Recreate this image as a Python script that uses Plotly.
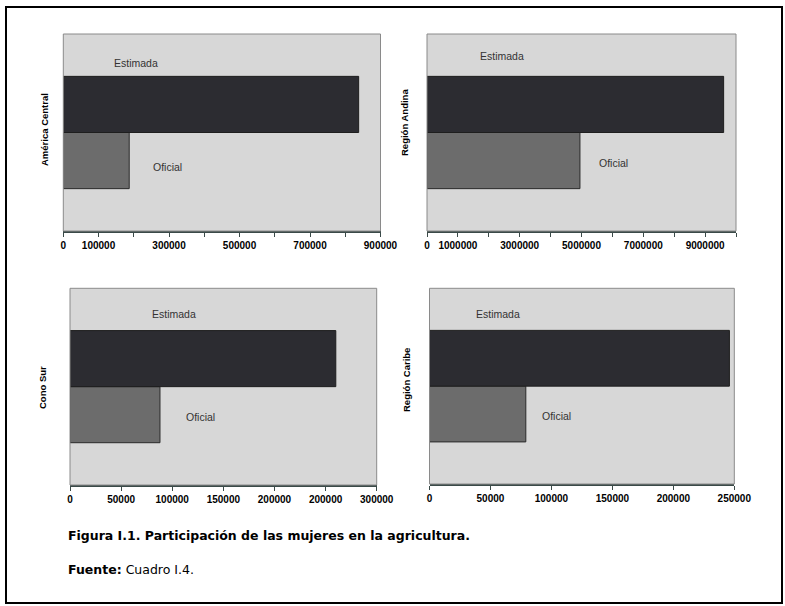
import plotly.graph_objects as go

# Mujeres en la agricultura: cifra oficial frente a cifra estimada, por región
regiones = ["América Central", "Región Andina", "Cono Sur", "Región Caribe"]
estimada = [838000, 9600000, 260000, 246000]
oficial = [187000, 4950000, 88000, 79000]

# Ejes horizontales de cada panel
ticks_ac = [0, 100000, 200000, 300000, 400000, 500000, 600000, 700000, 800000, 900000]
labels_ac = ["0", "100000", "", "300000", "", "500000", "", "700000", "", "900000"]
ticks_ra = [0, 1000000, 2000000, 3000000, 4000000, 5000000, 6000000, 7000000, 8000000, 9000000, 10000000]
labels_ra = ["0", "1000000", "", "3000000", "", "5000000", "", "7000000", "", "9000000", ""]
ticks_cs = [0, 50000, 100000, 150000, 200000, 250000, 300000]
labels_cs = ["0", "50000", "100000", "150000", "200000", "200000", "300000"]
ticks_rc = [0, 50000, 100000, 150000, 200000, 250000]
labels_rc = ["0", "50000", "100000", "150000", "200000", "250000"]

W, H = 785, 606
FONT = "Liberation Sans, Arial, Helvetica, sans-serif"
FONT_CAP = "DejaVu Sans, Liberation Sans, Arial, sans-serif"
BG_PLOT = "#d7d7d7"
C_EST = "#2c2c31"
C_OFI = "#6c6c6c"


def px_x(x):
    return x / W


def px_y(y):
    return 1 - y / H


# Marco de cada panel en píxeles: (izq, der, arriba, abajo)
frames = [
    (63.3, 380.5, 34, 231),
    (427.0, 736.0, 34, 231),
    (70.0, 376.7, 288.3, 485),
    (429.5, 734.3, 288.3, 484),
]
ticks = [(ticks_ac, labels_ac), (ticks_ra, labels_ra), (ticks_cs, labels_cs), (ticks_rc, labels_rc)]
# Centro de las etiquetas "Estimada"/"Oficial" dentro de cada panel (fracción del área)
lbl_est = [(0.229, 0.853), (0.244, 0.89), (0.339, 0.869), (0.226, 0.867)]
lbl_ofi = [(0.33, 0.325), (0.605, 0.345), (0.427, 0.347), (0.416, 0.349)]
# Centro de la etiqueta vertical de cada región (x, y en píxeles)
lbl_reg = [(44, 130), (405, 123), (42, 388), (406, 380)]

fig = go.Figure()
layout = dict(
    template="none",
    width=W,
    height=H,
    autosize=False,
    margin=dict(l=0, r=0, t=0, b=0, pad=0, autoexpand=False),
    paper_bgcolor="white",
    plot_bgcolor=BG_PLOT,
    showlegend=False,
    barmode="group",
    bargap=0.43,
    bargroupgap=0,
    font=dict(family=FONT, color="black"),
)
annotations = []
shapes = []

for i, region in enumerate(regiones):
    n = "" if i == 0 else str(i + 1)
    xa, ya = "x" + n, "y" + n
    # Oficial primero para que quede debajo de Estimada en el grupo horizontal
    fig.add_trace(go.Bar(
        y=[region], x=[oficial[i]], orientation="h", xaxis=xa, yaxis=ya,
        name="Oficial", marker=dict(color=C_OFI, line=dict(color="#2a2a2a", width=1)),
    ))
    fig.add_trace(go.Bar(
        y=[region], x=[estimada[i]], orientation="h", xaxis=xa, yaxis=ya,
        name="Estimada", marker=dict(color=C_EST, line=dict(color="#1e1e1e", width=1)),
    ))
    l, r, t, b = frames[i]
    tv, tt = ticks[i]
    layout["xaxis" + n] = dict(
        domain=[px_x(l), px_x(r)], anchor=ya, range=[tv[0], tv[-1]],
        tickvals=tv, ticktext=tt, ticks="outside", ticklen=4, tickwidth=1,
        tickcolor="#3a4a48", showline=True, linecolor="#3a4a48", linewidth=1.5,
        showgrid=False, zeroline=False, automargin=False,
        tickfont=dict(family=FONT, size=10, color="black", weight="bold"),
    )
    layout["yaxis" + n] = dict(
        domain=[px_y(b), px_y(t)], anchor=xa, showticklabels=False, ticks="",
        showgrid=False, zeroline=False, showline=False, fixedrange=True,
        automargin=False,
    )
    # Borde fino alrededor del área de trazado
    shapes.append(dict(
        type="rect", xref=xa + " domain", yref=ya + " domain", x0=0, x1=1, y0=0, y1=1,
        line=dict(color="#8a8a8a", width=1), layer="above",
    ))
    ex, ey = lbl_est[i]
    ox, oy = lbl_ofi[i]
    annotations.append(dict(
        text="Estimada", xref=xa + " domain", yref=ya + " domain", x=ex, y=ey,
        xanchor="center", yanchor="middle",
        showarrow=False, font=dict(family=FONT, size=10.5, color="#333333"),
    ))
    annotations.append(dict(
        text="Oficial", xref=xa + " domain", yref=ya + " domain", x=ox, y=oy,
        xanchor="center", yanchor="middle",
        showarrow=False, font=dict(family=FONT, size=10.5, color="#333333"),
    ))
    rx, ry = lbl_reg[i]
    annotations.append(dict(
        text="<b>" + region + "</b>", xref="paper", yref="paper",
        x=px_x(rx), y=px_y(ry), xanchor="center", yanchor="middle",
        textangle=-90, showarrow=False,
        font=dict(family=FONT, size=9.5, color="black"),
    ))

# Pie de figura
annotations.append(dict(
    text="<b>Figura I.1. Participación de las mujeres en la agricultura.</b>",
    xref="paper", yref="paper", x=px_x(66), y=px_y(535), xanchor="left", yanchor="middle",
    showarrow=False, font=dict(family=FONT_CAP, size=12.5, color="black"),
))
annotations.append(dict(
    text="<b>Fuente:</b> Cuadro I.4.",
    xref="paper", yref="paper", x=px_x(66), y=px_y(569), xanchor="left", yanchor="middle",
    showarrow=False, font=dict(family=FONT_CAP, size=12.5, color="black"),
))

# Recuadro exterior de la figura
shapes.append(dict(
    type="rect", xref="paper", yref="paper",
    x0=px_x(6), x1=px_x(782), y0=px_y(603), y1=px_y(7),
    line=dict(color="black", width=2),
))

layout["annotations"] = annotations
layout["shapes"] = shapes
fig.update_layout(**layout)

fig.write_html("out.html", config={"responsive": False})
